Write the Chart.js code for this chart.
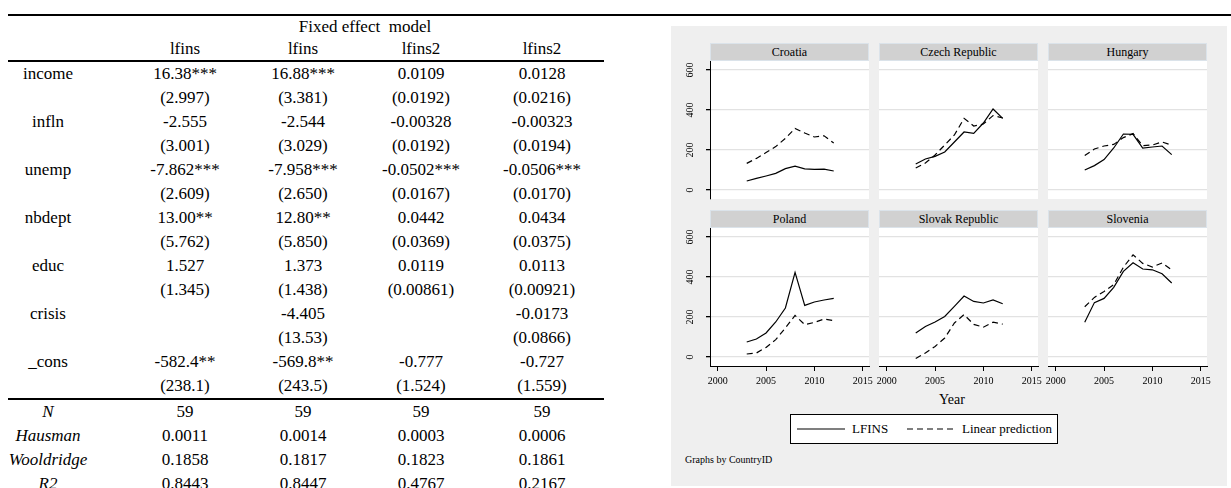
<!DOCTYPE html>
<html>
<head>
<meta charset="utf-8">
<script src="https://cdn.jsdelivr.net/npm/chart.js@4.4.1/dist/chart.umd.min.js"></script>
<style>
  body { margin:0; width:1231px; height:488px; overflow:hidden; background:#fff; position:relative;
         font-family:'Liberation Serif','Times New Roman',serif; color:#000; }
  #topRule { position:absolute; left:8px; top:14px; width:1223px; height:2px; background:#000; }
  #results { position:absolute; left:8px; top:16px; border-collapse:collapse; font-size:17px; }
  #results td { padding:0; text-align:center; white-space:pre; height:24px; line-height:24px; }
  #results tr.head td { height:22px; line-height:22px; }
  #results tr.colnames td { border-bottom:2px solid #000; }
  #results tr.firstStat td { border-top:2px solid #000; }
  #results td.lab { padding-right:38px; }
  #results tr.stat td.lab { font-style:italic; }
  #figure { position:absolute; left:671px; top:26px; width:556px; height:460px; background:#efefef; }
  .strip { position:absolute; background:#d1d1d1; border:1px solid #dbe3ea; box-sizing:border-box;
           font-size:12px; font-weight:normal; text-align:center; line-height:16px; }
  .plotbg { position:absolute; background:#fff; }
  canvas.panel { position:absolute; }
  #xTitle { position:absolute; left:912px; top:391px; width:80px; text-align:center; font-size:14px; line-height:18px; }
  #note { position:absolute; left:685px; top:454px; font-size:10px; font-weight:normal; line-height:12px; }
  #legend { position:absolute; left:790px; top:414px; width:268px; height:30px; box-sizing:border-box;
            border:1px solid #000; background:#fff; font-size:13px; }
  #legend svg { position:absolute; left:0; top:0; }
  #legend span { position:absolute; top:6px; line-height:16px; }
</style>
</head>
<body>
<div id="topRule"></div>
<table id="results"><colgroup>
  <col style="width:118px"><col style="width:118px"><col style="width:118px"><col style="width:118px"><col style="width:124px">
</colgroup><tbody></tbody></table>

<div id="figure"></div>
<div id="xTitle">Year</div>
<div id="legend">
  <svg width="266" height="28">
    <line x1="6" y1="14" x2="54" y2="14" stroke="#000" stroke-width="1.2"/>
    <line x1="116" y1="14" x2="164" y2="14" stroke="#000" stroke-width="1.2" stroke-dasharray="6 4"/>
  </svg>
  <span id="leg1" style="left:61px"></span>
  <span id="leg2" style="left:171px"></span>
</div>
<div id="note"></div>

<script>
// ---- table ----
const modelTitle = 'Fixed effect  model';
const depVars = ['lfins', 'lfins', 'lfins2', 'lfins2'];
const regressors = ['income', 'infln', 'unemp', 'nbdept', 'educ', 'crisis', '_cons'];
const coefs = [
  ['16.38***', '16.88***', '0.0109', '0.0128'],
  ['-2.555', '-2.544', '-0.00328', '-0.00323'],
  ['-7.862***', '-7.958***', '-0.0502***', '-0.0506***'],
  ['13.00**', '12.80**', '0.0442', '0.0434'],
  ['1.527', '1.373', '0.0119', '0.0113'],
  ['', '-4.405', '', '-0.0173'],
  ['-582.4**', '-569.8**', '-0.777', '-0.727']
];
const stdErrs = [
  ['(2.997)', '(3.381)', '(0.0192)', '(0.0216)'],
  ['(3.001)', '(3.029)', '(0.0192)', '(0.0194)'],
  ['(2.609)', '(2.650)', '(0.0167)', '(0.0170)'],
  ['(5.762)', '(5.850)', '(0.0369)', '(0.0375)'],
  ['(1.345)', '(1.438)', '(0.00861)', '(0.00921)'],
  ['', '(13.53)', '', '(0.0866)'],
  ['(238.1)', '(243.5)', '(1.524)', '(1.559)']
];
const statLabels = ['N', 'Hausman', 'Wooldridge', 'R2'];
const statValues = [
  ['59', '59', '59', '59'],
  ['0.0011', '0.0014', '0.0003', '0.0006'],
  ['0.1858', '0.1817', '0.1823', '0.1861'],
  ['0.8443', '0.8447', '0.4767', '0.2167']
];

// ---- panels ----
const years = [2003, 2004, 2005, 2006, 2007, 2008, 2009, 2010, 2011, 2012];
const countries = ['Croatia', 'Czech Republic', 'Hungary', 'Poland', 'Slovak Republic', 'Slovenia'];
const lfinsCroatia = [45, 58, 70, 83, 107, 119, 106, 103, 104, 95];
const predCroatia = [133, 158, 187, 217, 258, 308, 285, 265, 271, 235];
const lfinsCzech = [130, 155, 168, 190, 240, 290, 283, 335, 405, 358];
const predCzech = [110, 135, 175, 225, 275, 358, 320, 330, 372, 360];
const lfinsHungary = [100, 122, 152, 210, 280, 278, 210, 215, 220, 177];
const predHungary = [172, 205, 220, 228, 262, 282, 222, 225, 240, 224];
const lfinsPoland = [75, 90, 120, 175, 245, 423, 258, 275, 285, 293];
const predPoland = [15, 20, 48, 87, 145, 208, 162, 173, 190, 182];
const lfinsSlovak = [120, 153, 175, 203, 253, 305, 278, 270, 285, 266];
const predSlovak = [-8, 20, 53, 95, 170, 212, 163, 149, 174, 164];
const lfinsSlovenia = [174, 272, 293, 348, 428, 471, 440, 436, 416, 370];
const predSlovenia = [251, 298, 328, 362, 449, 511, 468, 450, 470, 435];
const yTickValues = [0, 200, 400, 600];
const xTickValues = [2000, 2005, 2010, 2015];
const seriesNames = ['LFINS', 'Linear prediction'];
const noteText = 'Graphs by CountryID';

const lfinsByCountry = [lfinsCroatia, lfinsCzech, lfinsHungary, lfinsPoland, lfinsSlovak, lfinsSlovenia];
const predByCountry = [predCroatia, predCzech, predHungary, predPoland, predSlovak, predSlovenia];

function buildTable() {
  const tbody = document.querySelector('#results tbody');
  let html = `<tr class="head"><td class="lab"></td><td colspan="4">${modelTitle}</td></tr>`;
  html += `<tr class="head colnames"><td class="lab"></td>${depVars.map(v => `<td>${v}</td>`).join('')}</tr>`;
  regressors.forEach((name, i) => {
    html += `<tr><td class="lab">${name}</td>${coefs[i].map(v => `<td>${v}</td>`).join('')}</tr>`;
    html += `<tr><td class="lab"></td>${stdErrs[i].map(v => `<td>${v}</td>`).join('')}</tr>`;
  });
  statLabels.forEach((name, i) => {
    const cls = i === 0 ? 'stat firstStat' : 'stat';
    html += `<tr class="${cls}"><td class="lab">${name}</td>${statValues[i].map(v => `<td>${v}</td>`).join('')}</tr>`;
  });
  tbody.innerHTML = html;
}

const FONT = 'Liberation Serif';
const colLeft = [710, 879, 1048];
const stripTop = [43, 210];
const PW = 159, PH = 138, SH = 18, M = 14;

function buildPanels() {
  countries.forEach((name, i) => {
    const r = Math.floor(i / 3), c = i % 3;
    const left = colLeft[c], top = stripTop[r] + SH;

    const strip = document.createElement('div');
    strip.className = 'strip';
    strip.style.cssText = `left:${left}px;top:${stripTop[r]}px;width:${PW}px;height:${SH}px`;
    strip.textContent = name;
    document.body.appendChild(strip);

    const bg = document.createElement('div');
    bg.className = 'plotbg';
    bg.style.cssText = `left:${left}px;top:${top}px;width:${PW}px;height:${PH}px`;
    document.body.appendChild(bg);

    const yW = c === 0 ? 40 : 0, padL = c === 0 ? 0 : M;
    const xH = r === 1 ? 30 : 0, padB = r === 1 ? 0 : M;
    const cv = document.createElement('canvas');
    cv.className = 'panel';
    cv.width = yW + padL + PW + M;
    cv.height = M + PH + xH + padB;
    cv.style.left = (left - yW - padL) + 'px';
    cv.style.top = (top - M) + 'px';
    document.body.appendChild(cv);

    new Chart(cv.getContext('2d'), {
      type: 'line',
      data: {
        datasets: [
          {
            label: seriesNames[0],
            data: years.map((y, k) => ({ x: y, y: lfinsByCountry[i][k] })),
            borderColor: '#000', borderWidth: 1.2, pointRadius: 0, tension: 0
          },
          {
            label: seriesNames[1],
            data: years.map((y, k) => ({ x: y, y: predByCountry[i][k] })),
            borderColor: '#000', borderWidth: 1.2, borderDash: [6, 4], pointRadius: 0, tension: 0
          }
        ]
      },
      options: {
        responsive: false,
        animation: false,
        devicePixelRatio: 1,
        layout: { padding: { left: padL, right: M, top: M, bottom: padB } },
        plugins: { legend: { display: false }, tooltip: { enabled: false } },
        scales: {
          x: {
            type: 'linear',
            display: r === 1,
            min: 1999.2, max: 2015.65,
            afterBuildTicks: s => { s.ticks = xTickValues.map(v => ({ value: v })); },
            afterFit: s => { s.height = xH; },
            border: { display: true, color: '#000', width: 1 },
            grid: { drawOnChartArea: false, tickColor: '#000', tickLength: 5 },
            ticks: { color: '#000', padding: 4, maxRotation: 0, font: { family: FONT, size: 10 },
                     callback: v => String(v) }
          },
          y: {
            min: -45, max: 645,
            afterBuildTicks: s => { s.ticks = yTickValues.map(v => ({ value: v })); },
            afterFit: s => { s.width = yW; },
            border: { display: c === 0, color: '#000', width: 1 },
            grid: { color: '#e2e2e2', lineWidth: 1.3, tickColor: '#000', tickLength: 4, drawTicks: c === 0 },
            ticks: { display: c === 0, color: '#000', minRotation: 90, maxRotation: 90, crossAlign: 'center',
                     padding: 8, font: { family: FONT, size: 10 }, callback: v => String(v) }
          }
        }
      }
    });
  });
}

buildTable();
buildPanels();
document.getElementById('leg1').textContent = seriesNames[0];
document.getElementById('leg2').textContent = seriesNames[1];
document.getElementById('note').textContent = noteText;
</script>
</body>
</html>
